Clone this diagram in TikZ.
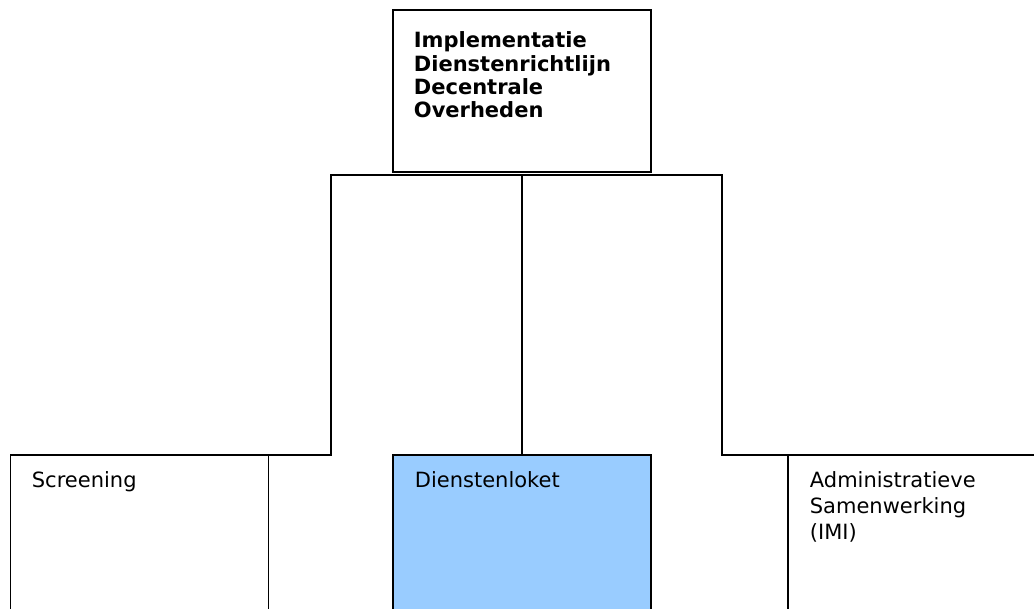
\documentclass[tikz,border=0pt]{standalone}
\usepackage{fontspec}
\setmainfont{DejaVu Sans}
\usepackage{xcolor}
\usepackage{tikz}
\usetikzlibrary{positioning, calc}
\definecolor{loketblue}{RGB}{153,204,255}

\begin{document}
\begin{tikzpicture}[
    x=1pt, y=-1pt,
    line width=1.8pt,
    unit/.style={draw, rectangle, minimum width=258pt, minimum height=200pt, inner sep=0pt, outer sep=0pt},
    topunit/.style={draw, rectangle, minimum width=258pt, minimum height=162pt, inner sep=0pt, outer sep=0pt},
    boxtext/.style={anchor=north west, inner sep=0pt, align=left, font=\fontsize{21}{26}\selectfont},
    titletext/.style={anchor=north west, inner sep=0pt, align=left, font=\bfseries\fontsize{21}{23.3}\selectfont}
]
    \useasboundingbox (0,0) rectangle (1034,609);
    \clip (0,0) rectangle (1034,609);

    % Top box
    \node[topunit] (ido) at (522,91) {};
    \node[titletext] (idotext) at (413,31) {Implementatie\\Dienstenrichtlijn\\Decentrale\\Overheden};

    % Sub projects
    \node[unit] (scr) at (139.5,555) {};
    \node[unit, fill=loketblue] (dl) at (522,555) {};
    \node[unit] (adm) at (917,555) {};

    \node[boxtext] (scrtext) at (31,471) {Screening};
    \node[boxtext] (dltext) at (414,471) {Dienstenloket};
    \node[boxtext] (admtext) at (809,471) {Administratieve\\Samenwerking\\(IMI)};

    % Connectors
    \coordinate (bus) at ($(ido.south)+(0,3)$);
    \coordinate (lbend) at (331,455);
    \coordinate (rbend) at (722,455);
    \draw (dl.north) -- (bus);
    \draw (scr.north east) -- (lbend) |- (bus);
    \draw (adm.north west) -- (rbend) |- (bus);
\end{tikzpicture}
\end{document}
